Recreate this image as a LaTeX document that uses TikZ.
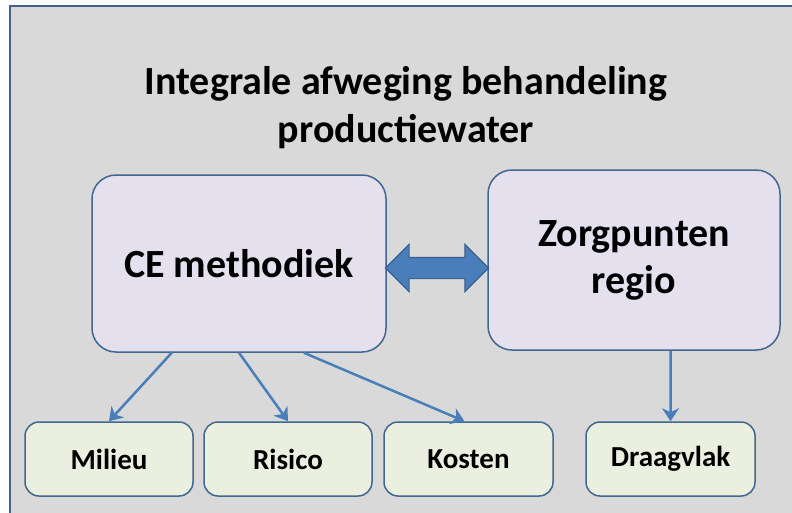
\documentclass[tikz,border=0pt]{standalone}
\usepackage{fontspec}
\setmainfont{Carlito}
\usepackage{tikz}
\usetikzlibrary{arrows.meta,shapes.arrows}

\definecolor{framegray}{HTML}{D9D9D9}
\definecolor{frameline}{HTML}{41608A}
\definecolor{boxline}{HTML}{41668F}
\definecolor{bigfill}{HTML}{E4E0EE}
\definecolor{smallfill}{HTML}{EBEFDF}
\definecolor{arrowblue}{HTML}{4A7EBB}
\definecolor{arrowline}{HTML}{3A6090}

\tikzset{
    bigbox/.style={draw=boxline, line width=1.5pt, fill=bigfill, rounded corners=24pt,
        align=center, font=\fontsize{40}{47}\selectfont\bfseries},
    smallbox/.style={draw=boxline, line width=1.5pt, fill=smallfill, rounded corners=14pt,
        minimum width=168pt, minimum height=74pt, font=\fontsize{29}{34}\selectfont\bfseries},
    link/.style={draw=arrowblue, line width=2.5pt, -{Stealth[length=13pt, width=17pt, inset=4pt]}},
    bigarrow/.style={double arrow, draw=arrowline, line width=1.2pt, fill=arrowblue,
        inner sep=10pt, double arrow head extend=13pt, double arrow tip angle=90,
        minimum height=103pt}
}

\begin{document}
\begin{tikzpicture}[x=1pt, y=-1pt]
    \useasboundingbox (0,0) rectangle (792,512);

    % Background frame
    \draw[frameline, line width=2pt, fill=framegray] (10,6) rectangle (806,524);

    % Title
    \node[align=center, font=\fontsize{40}{48}\selectfont\bfseries] (title) at (406,108)
        {Integrale afweging behandeling\\productiewater};

    % Main boxes
    \node[bigbox, minimum width=294pt, minimum height=177pt] (ce) at (239,263.5) {CE methodiek};
    \node[bigbox, minimum width=292pt, minimum height=180pt] (zorg) at (634,260) {Zorgpunten\\regio};

    % Double arrow between the main boxes
    \node[bigarrow] (both) at (437,268) {};

    % Bottom boxes
    \node[smallbox] (milieu) at (109,459) {Milieu};
    \node[smallbox] (risico) at (288,459) {Risico};
    \node[smallbox, minimum width=169pt] (kosten) at (468.5,459) {Kosten};
    \node[smallbox, minimum width=169pt] (draag) at (670.5,459) {Draagvlak};

    % Arrows down
    \draw[link] (ce.-127) -- (milieu.north);
    \draw[link] (ce.south) -- (risico.north);
    \draw[link] (ce.-54.6) -- ([xshift=-4pt]kosten.north);
    \draw[link] (zorg.-68.2) -- (draag.north);
\end{tikzpicture}
\end{document}
